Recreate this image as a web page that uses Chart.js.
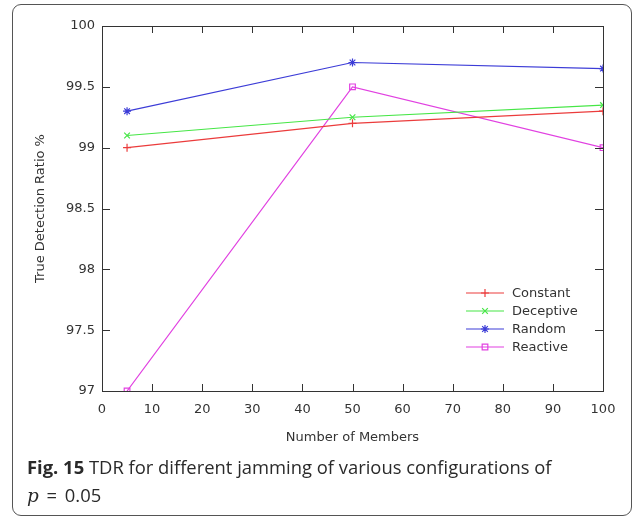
<!DOCTYPE html>
<html>
<head>
<meta charset="utf-8">
<script src="https://cdn.jsdelivr.net/npm/chart.js@4/dist/chart.umd.min.js"></script>
<style>
  html, body { margin: 0; padding: 0; background: #fff; }
  #wrap { position: relative; width: 636px; height: 520px; }
  #box {
    position: absolute; left: 12px; top: 4px; width: 620px; height: 512px;
    border: 1px solid #555; border-radius: 9px; box-sizing: border-box;
  }
  #cv { position: absolute; left: 0; top: 0; }
  #cap {
    position: absolute; left: 27px; top: 453px; width: 600px;
    font-family: "Open Sans", sans-serif; font-size: 18.4px; line-height: 28px; color: #2a2a2a;
  }
  #cap b { font-weight: bold; }
  #cap i { font-family: "DejaVu Serif", serif; }
  #cap .eq { word-spacing: 3px; }
</style>
</head>
<body>
<div id="wrap">
  <div id="box"></div>
  <canvas id="cv" width="636" height="455"></canvas>
  <div id="cap"><b>Fig. 15</b> TDR for different jamming of various configurations of<br><span class="eq"><i>p</i> = 0.05</span></div>
</div>
<script>
// values
var members = [5, 50, 100];
var constant = [99.0, 99.2, 99.3];
var deceptive = [99.1, 99.25, 99.35];
var random = [99.3, 99.7, 99.65];
var reactive = [97.0, 99.5, 99.0];

var xTicks = [0, 10, 20, 30, 40, 50, 60, 70, 80, 90, 100];
var yTicks = [97, 97.5, 98, 98.5, 99, 99.5, 100];

var names = ['Constant', 'Deceptive', 'Random', 'Reactive'];
var colors = ['rgb(235,60,60)', 'rgb(70,230,70)', 'rgb(60,60,215)', 'rgb(225,65,225)'];
var markers = ['cross', 'crossRot', 'star', 'rect'];
var series = [constant, deceptive, random, reactive];

var axisCol = '#333';
var font = 'DejaVu Sans';

function pts(arr){
    return members.map(function(m, i){ return {x: m, y: arr[i]}; });
}

var datasets = [];
for(let i=0;i<series.length;i++){
    datasets.push({
        label: names[i],
        data: pts(series[i]),
        borderColor: colors[i],
        backgroundColor: 'rgba(0,0,0,0)',
        borderWidth: 1.2,
        pointStyle: markers[i],
        pointRadius: 4,
        pointBorderColor: colors[i],
        pointBackgroundColor: 'rgba(0,0,0,0)',
        pointBorderWidth: 1.2,
        tension: 0
    });
}

// frame + inward ticks (gnuplot style)
var frame = {
    id: 'frame',
    afterDraw: function(chart){
        var ctx = chart.ctx, a = chart.chartArea;
        var xs = chart.scales.x, ys = chart.scales.y;
        ctx.save();
        ctx.strokeStyle = axisCol;
        ctx.lineWidth = 1;
        ctx.strokeRect(a.left + 0.5, a.top + 0.5, a.right - a.left, a.bottom - a.top);
        ctx.beginPath();
        xTicks.forEach(function(v){
            var px = Math.round(xs.getPixelForValue(v)) + 0.5;
            ctx.moveTo(px, a.bottom); ctx.lineTo(px, a.bottom - 7);
            ctx.moveTo(px, a.top); ctx.lineTo(px, a.top + 7);
        });
        yTicks.forEach(function(v){
            var py = Math.round(ys.getPixelForValue(v)) + 0.5;
            ctx.moveTo(a.left, py); ctx.lineTo(a.left + 8, py);
            ctx.moveTo(a.right, py); ctx.lineTo(a.right - 8, py);
        });
        ctx.stroke();

        // key, inside lower right
        ctx.font = '13px "' + font + '"';
        ctx.textBaseline = 'middle';
        ctx.textAlign = 'left';
        for(let i=0;i<names.length;i++){
            var y = 293 + i*18;
            ctx.strokeStyle = colors[i];
            ctx.lineWidth = 1.2;
            ctx.beginPath();
            ctx.moveTo(466, y); ctx.lineTo(504, y);
            ctx.stroke();
            ctx.fillStyle = 'rgba(0,0,0,0)';
            Chart.helpers.drawPoint(ctx, {pointStyle: markers[i], radius: 4, borderWidth: 1.2}, 485, y);
            ctx.fillStyle = '#333';
            ctx.fillText(names[i], 512, y + 1);
        }
        ctx.restore();
    }
};

var chart = new Chart(document.getElementById('cv'), {
    type: 'line',
    data: { datasets: datasets },
    options: {
        responsive: false,
        animation: false,
        layout: { padding: { left: 0, top: 26, right: 33, bottom: 0 } },
        plugins: { legend: { display: false }, tooltip: { enabled: false } },
        scales: {
            x: {
                type: 'linear', min: 0, max: 100,
                afterFit: function(s){ s.height = 64; },
                afterBuildTicks: function(s){ s.ticks = xTicks.map(function(v){ return {value: v}; }); },
                grid: { display: false, drawTicks: false },
                border: { display: false },
                ticks: { color: axisCol, padding: 11, maxRotation: 0, autoSkip: false, font: { family: font, size: 13 },
                         callback: function(v){ return String(v); } },
                title: { display: true, text: 'Number of Members', color: axisCol, padding: { top: 0, bottom: 10 }, font: { family: font, size: 13 } }
            },
            y: {
                type: 'linear', min: 97, max: 100,
                afterFit: function(s){ s.width = 102; },
                afterBuildTicks: function(s){ s.ticks = yTicks.map(function(v){ return {value: v}; }); },
                grid: { display: false, drawTicks: false },
                border: { display: false },
                ticks: { color: axisCol, padding: 7, autoSkip: false, font: { family: font, size: 13 },
                         callback: function(v){ return String(v); } },
                title: { display: true, text: 'True Detection Ratio %', color: axisCol, padding: { top: 33, bottom: 0 }, font: { family: font, size: 13 } }
            }
        }
    },
    plugins: [frame]
});
</script>
</body>
</html>
